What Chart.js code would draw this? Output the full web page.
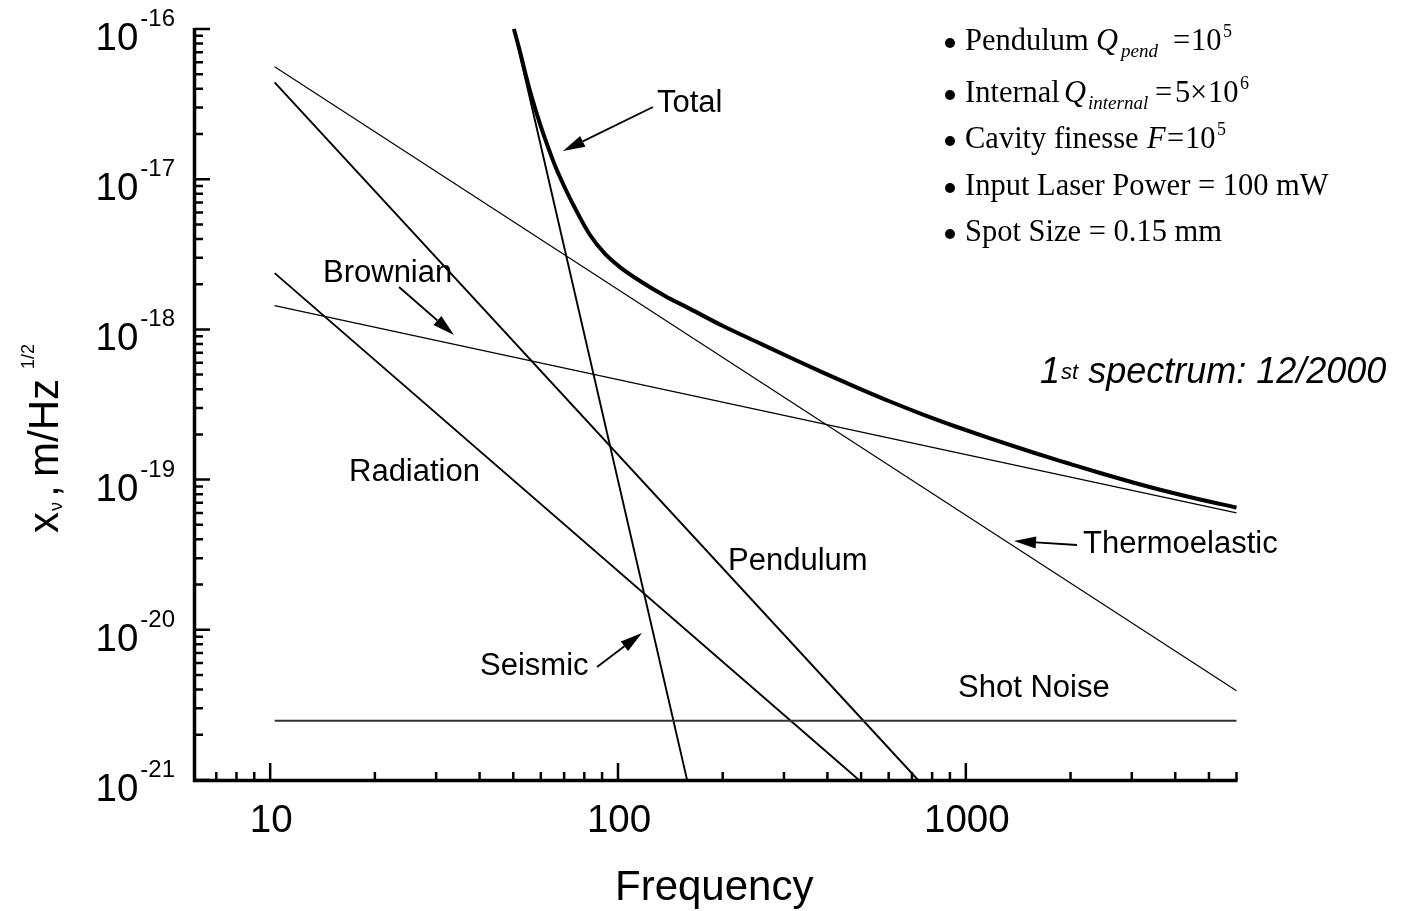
<!DOCTYPE html>
<html>
<head>
<meta charset="utf-8">
<script src="https://cdn.jsdelivr.net/npm/chart.js@4.4.0/dist/chart.umd.min.js"></script>
<style>
html, body { margin: 0; padding: 0; background: #fff; }
#wrap { width: 1401px; height: 911px; }
</style>
</head>
<body>
<div id="wrap"><canvas id="noise" width="1401" height="911"></canvas></div>
<script>
// frequency in Hz, displacement noise in m/Hz^1/2
var totalFreq  = [50.2, 52.3, 54.4, 56.6, 59.7, 62.9, 66.3, 70.4, 75.2, 83.1, 91.8, 101.3, 115.7, 136.5, 161.1, 200.4, 251, 312.4, 388.6, 486.7, 605.5, 753.4, 943.5, 1174, 1561, 1954, 2432, 3026, 3789, 4715, 6000];
var totalNoise = [1.0e-16, 7.03e-17, 4.86e-17, 3.47e-17, 2.33e-17, 1.64e-17, 1.19e-17, 8.74e-18, 6.43e-18, 4.25e-18, 3.18e-18, 2.60e-18, 2.10e-18, 1.67e-18, 1.37e-18, 1.053e-18, 8.24e-19, 6.50e-19, 5.16e-19, 4.10e-19, 3.31e-19, 2.71e-19, 2.24e-19, 1.88e-19, 1.515e-19, 1.29e-19, 1.106e-19, 9.57e-20, 8.33e-20, 7.37e-20, 6.52e-20];

var thermoFreq = [10.3, 6000];
var thermoNoise = [5.61e-17, 3.93e-21];
var brownFreq = [10.3, 6000];
var brownNoise = [1.44e-18, 6.0e-20];
var pendFreq = [10.3, 729];
var pendNoise = [4.41e-17, 1e-21];
var radFreq = [10.3, 493];
var radNoise = [2.37e-18, 1e-21];
var seisFreq = [50.2, 158];
var seisNoise = [1e-16, 1e-21];
var shotFreq = [10.3, 6000];
var shotNoise = [2.48e-21, 2.48e-21];

var xMajor = [10, 100, 1000];
var xTickLabels = ['10', '100', '1000'];
var yExponents = [-16, -17, -18, -19, -20, -21];
var minorSteps = [2, 3, 4, 5, 6, 7, 8, 9];

var SANS = '"Liberation Sans", Arial, sans-serif';
var SERIF = '"Liberation Serif", "Times New Roman", serif';

function pts(fx, fy) {
    return fx.map(function(f, i) { return {x: f, y: fy[i]}; });
}

function line(data, width, color) {
    return {
        data: data, showLine: true, borderColor: color || '#000', borderWidth: width,
        pointRadius: 0, fill: false, clip: 6
    };
}

function write(ctx, s, x, y, size, family, style) {
    ctx.font = (style || '') + ' ' + size + 'px ' + family;
    ctx.fillText(s, x, y);
    return x + ctx.measureText(s).width;
}

function arrow(ctx, x1, y1, x2, y2) {
    var ang = Math.atan2(y2 - y1, x2 - x1), len = 22, hw = 6;
    var bx = x2 - len * Math.cos(ang), by = y2 - len * Math.sin(ang);
    ctx.lineWidth = 1.8;
    ctx.beginPath();
    ctx.moveTo(x1, y1);
    ctx.lineTo(bx, by);
    ctx.stroke();
    ctx.beginPath();
    ctx.moveTo(x2, y2);
    ctx.lineTo(bx + hw * Math.sin(ang), by - hw * Math.cos(ang));
    ctx.lineTo(bx - hw * Math.sin(ang), by + hw * Math.cos(ang));
    ctx.closePath();
    ctx.fill();
}

// axes, inward ticks, labels and annotations
var frame = {
    id: 'frame',
    afterDraw: function(chart) {
        var ctx = chart.ctx, xs = chart.scales.x, ys = chart.scales.y, a = chart.chartArea;
        var ax = a.left + 1.5, ay = a.bottom + 0.5;
        ctx.save();
        ctx.strokeStyle = '#000';
        ctx.fillStyle = '#000';
        ctx.lineCap = 'butt';

        ctx.lineWidth = 3.5;
        ctx.beginPath();
        ctx.moveTo(ax, a.top - 1);
        ctx.lineTo(ax, ay);
        ctx.lineTo(a.right + 1, ay);
        ctx.stroke();

        ctx.lineWidth = 2.5;
        ctx.beginPath();
        yExponents.forEach(function(e) {
            var py = ys.getPixelForValue(Math.pow(10, e));
            ctx.moveTo(ax, py); ctx.lineTo(210, py);
        });
        for (var e = -21; e < -16; e++) {
            minorSteps.forEach(function(m) {
                var py = ys.getPixelForValue(m * Math.pow(10, e));
                ctx.moveTo(ax, py); ctx.lineTo(203, py);
            });
        }
        xMajor.forEach(function(v) {
            var px = xs.getPixelForValue(v);
            ctx.moveTo(px, ay); ctx.lineTo(px, 763);
        });
        [1, 10, 100, 1000].forEach(function(d) {
            minorSteps.forEach(function(m) {
                var v = m * d;
                if (v <= 6 || v > 6000) return;
                var px = xs.getPixelForValue(v);
                ctx.moveTo(px, ay); ctx.lineTo(px, 772);
            });
        });
        ctx.stroke();

        // tick labels
        ctx.textBaseline = 'alphabetic';
        yExponents.forEach(function(e) {
            var py = ys.getPixelForValue(Math.pow(10, e));
            ctx.font = '24px ' + SANS;
            var sup = '-' + (-e), w2 = ctx.measureText(sup).width;
            ctx.font = '38.5px ' + SANS;
            var w1 = ctx.measureText('10').width;
            var x0 = 175 - w2 - 2 - w1;
            write(ctx, '10', x0, py + 21, 38.5, SANS);
            write(ctx, sup, x0 + w1 + 2, py - 3, 24, SANS);
        });
        ctx.textAlign = 'center';
        xMajor.forEach(function(v, i) {
            write(ctx, xTickLabels[i], xs.getPixelForValue(v) + 1, 832, 38.5, SANS);
        });
        ctx.textAlign = 'left';

        // axis titles
        write(ctx, 'Frequency', 615, 900, 42, SANS);
        ctx.save();
        ctx.translate(58, 533);
        ctx.rotate(-Math.PI / 2);
        write(ctx, 'x', 0, 0, 42, SANS);
        write(ctx, '\u03bd', 22, 4, 18, SANS);
        write(ctx, ',', 36, 0, 42, SANS);
        write(ctx, 'm/Hz', 56, 0, 42, SANS);
        write(ctx, '1/2', 164, -24, 18, SANS);
        ctx.restore();

        // curve names
        write(ctx, 'Total', 657, 112, 31, SANS);
        write(ctx, 'Brownian', 323, 282, 31, SANS);
        write(ctx, 'Radiation', 349, 481, 31, SANS);
        write(ctx, 'Pendulum', 728, 570, 31, SANS);
        write(ctx, 'Seismic', 480, 675, 31, SANS);
        write(ctx, 'Shot Noise', 958, 697, 31, SANS);
        write(ctx, 'Thermoelastic', 1083, 553, 31, SANS);
        arrow(ctx, 653, 107, 563, 151);
        arrow(ctx, 399, 287, 454, 335);
        arrow(ctx, 597, 667, 642, 633);
        arrow(ctx, 1077, 545, 1014, 541);

        var nx = write(ctx, '1', 1040, 383, 36, SANS, 'italic');
        nx = write(ctx, 'st', nx + 1, 379, 22, SANS, 'italic');
        write(ctx, ' spectrum: 12/2000', nx, 383, 36, SANS, 'italic');

        // parameter list
        [50, 102, 148, 195, 241].forEach(function(b) {
            ctx.beginPath();
            ctx.arc(950, b - 7, 5, 0, 2 * Math.PI);
            ctx.fill();
        });
        write(ctx, 'Pendulum', 965, 50, 30.5, SERIF);
        write(ctx, 'Q', 1096, 50, 30.5, SERIF, 'italic');
        write(ctx, 'pend', 1121, 57, 19, SERIF, 'italic');
        write(ctx, '=', 1173, 50, 30.5, SERIF);
        write(ctx, '10', 1191, 50, 30.5, SERIF);
        write(ctx, '5', 1223, 37, 18, SERIF);

        write(ctx, 'Internal', 965, 102, 30.5, SERIF);
        write(ctx, 'Q', 1064, 102, 30.5, SERIF, 'italic');
        write(ctx, 'internal', 1088, 109, 19, SERIF, 'italic');
        write(ctx, '=', 1155, 102, 30.5, SERIF);
        write(ctx, '5', 1175, 102, 30.5, SERIF);
        write(ctx, '\u00d7', 1190, 102, 30.5, SERIF);
        write(ctx, '10', 1208, 102, 30.5, SERIF);
        write(ctx, '6', 1240, 89, 18, SERIF);

        write(ctx, 'Cavity finesse', 965, 148, 30.5, SERIF);
        write(ctx, 'F', 1147, 148, 30.5, SERIF, 'italic');
        write(ctx, '=', 1167, 148, 30.5, SERIF);
        write(ctx, '10', 1185, 148, 30.5, SERIF);
        write(ctx, '5', 1217, 135, 18, SERIF);

        write(ctx, 'Input Laser Power = 100 mW', 965, 195, 30.5, SERIF);
        write(ctx, 'Spot Size = 0.15 mm', 965, 241, 30.5, SERIF);
        ctx.restore();
    }
};

var total = line(pts(totalFreq, totalNoise), 4);
total.cubicInterpolationMode = 'monotone';

new Chart(document.getElementById('noise').getContext('2d'), {
    type: 'scatter',
    data: {
        datasets: [
            line(pts(shotFreq, shotNoise), 1.8, '#333'),
            line(pts(thermoFreq, thermoNoise), 1.2),
            line(pts(brownFreq, brownNoise), 1.3),
            line(pts(pendFreq, pendNoise), 1.9),
            line(pts(radFreq, radNoise), 1.9),
            line(pts(seisFreq, seisNoise), 1.9),
            total
        ]
    },
    options: {
        responsive: false,
        animation: false,
        devicePixelRatio: 1,
        layout: { padding: { left: 193, right: 164.5, top: 29, bottom: 131 } },
        plugins: { legend: { display: false }, tooltip: { enabled: false } },
        scales: {
            x: { type: 'logarithmic', min: 6, max: 6000, display: false },
            y: { type: 'logarithmic', min: 1e-21, max: 1e-16, display: false }
        }
    },
    plugins: [frame]
});
</script>
</body>
</html>
